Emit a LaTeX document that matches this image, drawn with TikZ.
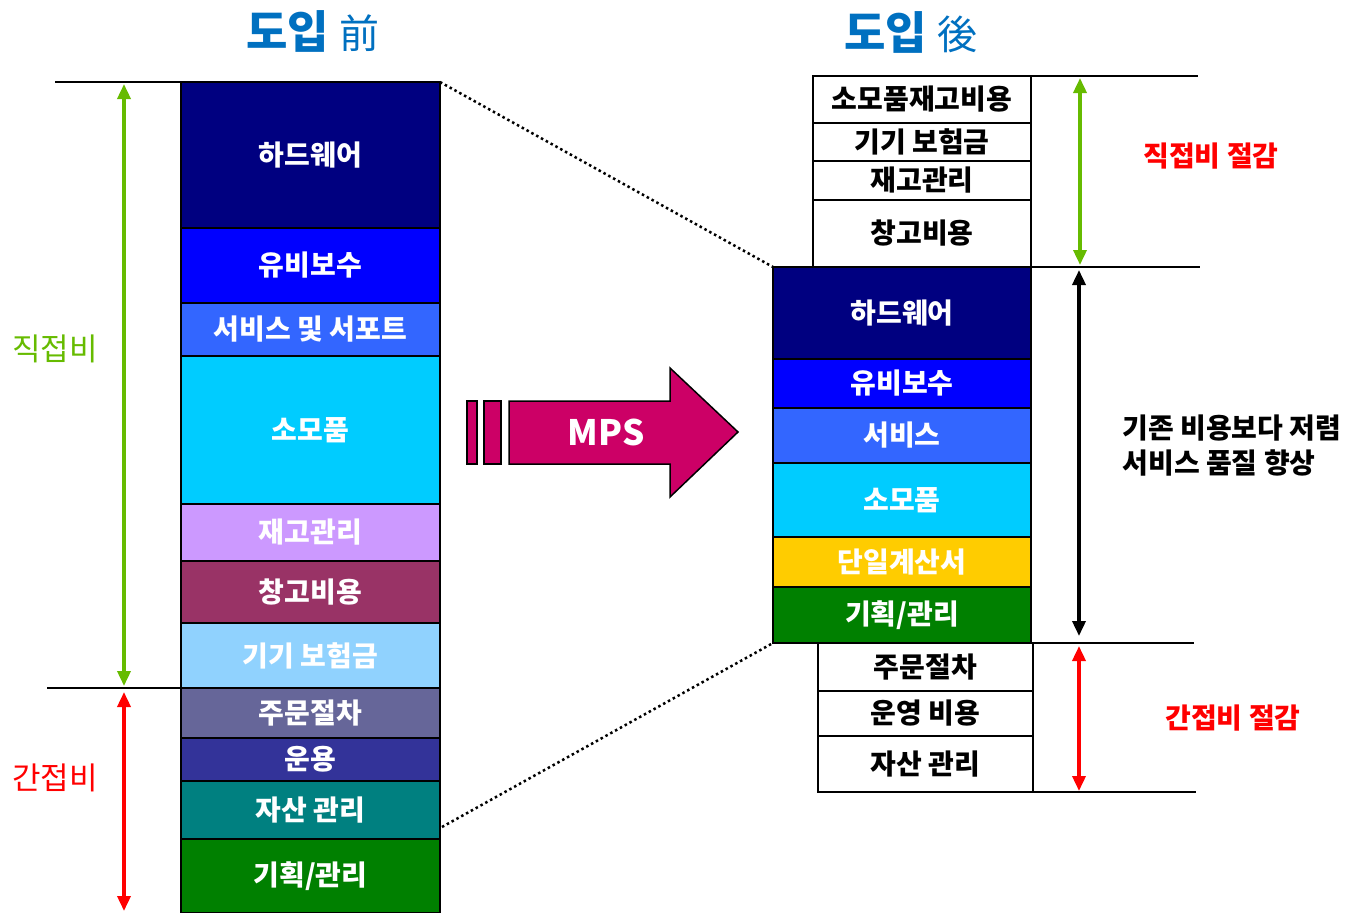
\documentclass[tikz,border=0pt]{standalone}
\usepackage{fontspec}
\setmainfont{Noto Sans CJK KR}
\usepackage{xcolor}
\usetikzlibrary{arrows.meta,positioning,calc}

\definecolor{titleblue}{HTML}{0070C0}
\definecolor{navyc}{HTML}{000080}
\definecolor{bluec}{HTML}{0000FF}
\definecolor{midblue}{HTML}{3366FF}
\definecolor{skyc}{HTML}{00CCFF}
\definecolor{lilac}{HTML}{CC99FF}
\definecolor{plum}{HTML}{993366}
\definecolor{paleblue}{HTML}{90D2FE}
\definecolor{slate}{HTML}{666699}
\definecolor{indigoc}{HTML}{333399}
\definecolor{tealc}{HTML}{008080}
\definecolor{greenc}{HTML}{008000}
\definecolor{goldc}{HTML}{FFCC00}
\definecolor{limec}{HTML}{66BB00}
\definecolor{mpsred}{HTML}{CC0066}

\begin{document}
\begin{tikzpicture}[
    x=1pt, y=-1pt,
    costbox/.style={rectangle, draw=black, line width=1.8pt, outer sep=0pt, inner sep=0pt, text=white, align=center, font=\bfseries\fontsize{28}{32}\selectfont},
    plainbox/.style={rectangle, draw=black, line width=1.8pt, fill=white, outer sep=0pt, inner sep=0pt, text=black, align=center, font=\bfseries\fontsize{28}{32}\selectfont},
    guide/.style={line width=2.5pt, black},
    dimarrow/.style={{Triangle[length=15pt,width=13pt]}-{Triangle[length=15pt,width=13pt]}, line width=3.5pt},
    sidelabel/.style={font=\fontsize{31}{34}\selectfont},
    notelabel/.style={font=\bfseries\fontsize{28}{35}\selectfont, align=left},
    zoomline/.style={line width=2.5pt, dash pattern=on 2.5pt off 3pt}
]
\useasboundingbox (0,0) rectangle (1353,913);

% Titles
\node[text=titleblue] (before) at (313,31) {\bfseries\fontsize{45}{48}\selectfont 도입 \mdseries\fontsize{40}{44}\selectfont 前};
\node[text=titleblue] (after) at (911,32) {\bfseries\fontsize{45}{48}\selectfont 도입 \mdseries\fontsize{40}{44}\selectfont 後};

% Left stack: before
\node[costbox, fill=navyc, minimum width=259pt, minimum height=146pt, anchor=north] (lhw) at (310.5,82) {하드웨어};
\node[costbox, fill=bluec, minimum width=259pt, minimum height=75pt, below=0pt of lhw] (lmaint) {유비보수};
\node[costbox, fill=midblue, minimum width=259pt, minimum height=53pt, below=0pt of lmaint] (lsvc) {서비스 및 서포트};
\node[costbox, fill=skyc, minimum width=259pt, minimum height=148pt, below=0pt of lsvc] (lsupp) {소모품};
\node[costbox, fill=lilac, minimum width=259pt, minimum height=57pt, below=0pt of lsupp] (lstock) {재고관리};
\node[costbox, fill=plum, minimum width=259pt, minimum height=62pt, below=0pt of lstock] (lware) {창고비용};
\node[costbox, fill=paleblue, minimum width=259pt, minimum height=65pt, below=0pt of lware] (lins) {기기 보험금};
\node[costbox, fill=slate, minimum width=259pt, minimum height=50pt, below=0pt of lins] (lorder) {주문절차};
\node[costbox, fill=indigoc, minimum width=259pt, minimum height=43pt, below=0pt of lorder] (lops) {운용};
\node[costbox, fill=tealc, minimum width=259pt, minimum height=58pt, below=0pt of lops] (lasset) {자산 관리};
\node[costbox, fill=greenc, minimum width=259pt, minimum height=74pt, below=0pt of lasset] (lplan) {기획/관리};

% Left guides and spans
\coordinate (ltop) at (55,82);
\coordinate (lmid) at (47,688);
\coordinate (lbot) at (124,913);
\draw[guide] (ltop) -- (lhw.north west);
\draw[guide] (lmid) -- (lorder.north west);
\draw[dimarrow, limec] ($(ltop)+(69,2)$) -- ($(lmid)+(77,-2)$);
\draw[dimarrow, red] ($(lmid)+(77,4)$) -- ($(lbot)+(0,-2)$);
\node[sidelabel, text=limec] (direct) at (55,349) {직접비};
\node[sidelabel, text=red] (indirect) at (55,778) {간접비};

% MPS arrow
\draw[line width=1.5pt, fill=mpsred] (467,401) rectangle (477,464);
\draw[line width=1.5pt, fill=mpsred] (484,401) rectangle (501,464);
\draw[line width=1.5pt, fill=mpsred, line join=miter]
    (509,401) -- (670,401) -- (670,368) -- (738,432) -- (670,497) -- (670,464) -- (509,464) -- cycle;
\node[text=white, font=\bfseries\fontsize{35}{38}\selectfont] (mps) at (606,432) {MPS};

% Right stack: after, removed costs
\node[plainbox, minimum width=218pt, minimum height=47pt, anchor=north] (rsupp) at (922,76) {소모품재고비용};
\node[plainbox, minimum width=218pt, minimum height=38pt, below=0pt of rsupp] (rins) {기기 보험금};
\node[plainbox, minimum width=218pt, minimum height=39pt, below=0pt of rins] (rstock) {재고관리};
\node[plainbox, minimum width=218pt, minimum height=67pt, below=0pt of rstock] (rware) {창고비용};

% Right stack: after, remaining costs
\node[costbox, fill=navyc, minimum width=258pt, minimum height=92pt, anchor=north] (rhw) at (902,267) {하드웨어};
\node[costbox, fill=bluec, minimum width=258pt, minimum height=49pt, below=0pt of rhw] (rmaint) {유비보수};
\node[costbox, fill=midblue, minimum width=258pt, minimum height=55pt, below=0pt of rmaint] (rsvc) {서비스};
\node[costbox, fill=skyc, minimum width=258pt, minimum height=74pt, below=0pt of rsvc] (rcons) {소모품};
\node[costbox, fill=goldc, minimum width=258pt, minimum height=50pt, below=0pt of rcons] (rbill) {단일계산서};
\node[costbox, fill=greenc, minimum width=258pt, minimum height=56pt, below=0pt of rbill] (rplan) {기획/관리};

% Right stack: after, removed indirect costs
\node[plainbox, minimum width=215pt, minimum height=48pt, anchor=north] (rorder) at (925.5,643) {주문절차};
\node[plainbox, minimum width=215pt, minimum height=45pt, below=0pt of rorder] (rops) {운영 비용};
\node[plainbox, minimum width=215pt, minimum height=56pt, below=0pt of rops] (rasset) {자산 관리};

% Right guides and spans
\coordinate (rtop) at (1198,76);
\coordinate (rmid) at (1200,267);
\coordinate (rlow) at (1194,643);
\coordinate (rbot) at (1196,792);
\draw[guide] (rsupp.north east) -- (rtop);
\draw[guide] (rhw.north east) -- (rmid);
\draw[guide] (rplan.south east) -- (rlow);
\draw[guide] (rasset.south west) -- (rbot);
\draw[dimarrow, limec] (1080,78) -- (1080,265);
\draw[dimarrow, black] (1079,270) -- (1079,636);
\draw[dimarrow, red] (1079,646) -- (1079,791);
\node[text=red, font=\bfseries\fontsize{28}{32}\selectfont] (cutdirect) at (1211,156) {직접비 절감};
\node[text=red, font=\bfseries\fontsize{28}{32}\selectfont] (cutindirect) at (1233,718) {간접비 절감};
\node[notelabel, anchor=west] (note) at (1119,446) {기존 비용보다 저렴\\서비스 품질 향상};

% Zoom lines
\draw[zoomline] (lhw.north east) -- (rhw.north west);
\draw[zoomline] ($(lplan.north east)+(2,-12)$) -- (rplan.south west);

\end{tikzpicture}
\end{document}
